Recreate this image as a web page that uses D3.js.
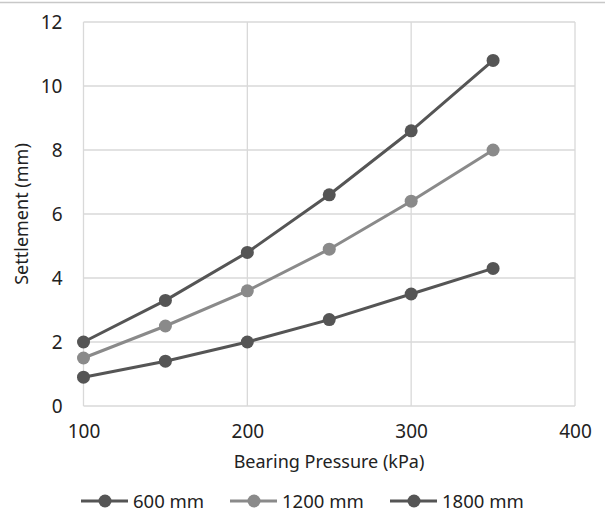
<!DOCTYPE html>
<html><head><meta charset="utf-8">
<script src="https://cdn.jsdelivr.net/npm/d3@7"></script>
<style>body{margin:0;background:#fff}svg{display:block;font-family:"Noto Sans",sans-serif}</style>
</head><body>
<svg id="c" width="605" height="511"></svg>
<script>
const pressures = [100, 150, 200, 250, 300, 350];
const s600 = [2.0, 3.3, 4.8, 6.6, 8.6, 10.8];
const s1200 = [1.5, 2.5, 3.6, 4.9, 6.4, 8.0];
const s1800 = [0.9, 1.4, 2.0, 2.7, 3.5, 4.3];
const seriesNames = ["600 mm", "1200 mm", "1800 mm"];
const seriesColors = ["#555555", "#8a8a8a", "#555555"];
const xTicks = [100, 200, 300, 400];
const yTicks = [0, 2, 4, 6, 8, 10, 12];

const svg = d3.select("#c");
svg.append("line").attr("x1",0).attr("x2",605).attr("y1",2.5).attr("y2",2.5).attr("stroke","#c8c8c8").attr("stroke-width",1.5);

const L = 83.5, R = 575, T = 22, B = 406;
const x = d3.scaleLinear().domain([100, 400]).range([L, R]);
const y = d3.scaleLinear().domain([0, 12]).range([B, T]);

const grid = svg.append("g").attr("stroke", "#d9d9d9").attr("stroke-width", 1.3);
yTicks.forEach(t => grid.append("line").attr("x1", L).attr("x2", R).attr("y1", y(t)).attr("y2", y(t)));
xTicks.forEach(t => grid.append("line").attr("x1", x(t)).attr("x2", x(t)).attr("y1", T).attr("y2", B));

const xAxis = svg.append("g").attr("transform", `translate(0,${B})`)
  .call(d3.axisBottom(x).tickValues(xTicks).tickSize(0).tickPadding(19).tickFormat(d3.format("d")));
xAxis.select(".domain").remove();
xAxis.selectAll("text").attr("font-size", 19).attr("fill", "#222").attr("font-family","Noto Sans");

const yAxis = svg.append("g").attr("transform", `translate(${L},0)`)
  .call(d3.axisLeft(y).tickValues(yTicks).tickSize(0).tickPadding(21).tickFormat(d3.format("d")));
yAxis.select(".domain").remove();
yAxis.selectAll("text").attr("font-size", 19).attr("fill", "#222").attr("font-family","Noto Sans");

svg.append("text").attr("x", 329).attr("y", 468).attr("text-anchor", "middle")
  .attr("font-size", 18).attr("fill", "#222").text("Bearing Pressure (kPa)");
svg.append("text").attr("transform", "translate(28,214) rotate(-90)").attr("text-anchor", "middle")
  .attr("font-size", 18).attr("fill", "#222").text("Settlement (mm)");

const data = [s600, s1200, s1800];
const line = d3.line().x((d, i) => x(pressures[i])).y(d => y(d));
data.forEach((vals, k) => {
  const g = svg.append("g");
  g.append("path").datum(vals).attr("d", line).attr("fill", "none")
    .attr("stroke", seriesColors[k]).attr("stroke-width", 3);
  g.selectAll("circle").data(vals).join("circle")
    .attr("cx", (d, i) => x(pressures[i])).attr("cy", d => y(d)).attr("r", 6.5)
    .attr("fill", seriesColors[k]);
});

const legX = [81, 230, 390];
const ly = 501;
seriesNames.forEach((n, k) => {
  const g = svg.append("g");
  g.append("line").attr("x1", legX[k]).attr("x2", legX[k] + 47).attr("y1", ly).attr("y2", ly)
    .attr("stroke", seriesColors[k]).attr("stroke-width", 3);
  g.append("circle").attr("cx", legX[k] + 24).attr("cy", ly).attr("r", 6.5).attr("fill", seriesColors[k]);
  g.append("text").attr("x", legX[k] + 52).attr("y", ly + 6.5).attr("font-size", 18.5).attr("fill", "#222").text(n);
});
</script>
</body></html>
